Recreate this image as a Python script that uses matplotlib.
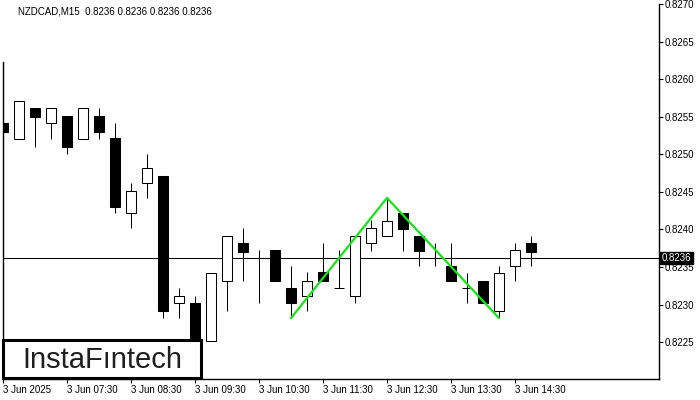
import matplotlib
matplotlib.use("Agg")
import matplotlib.pyplot as plt
from matplotlib.patches import Rectangle
from matplotlib.transforms import blended_transform_factory

plt.rcParams['font.family'] = ['Liberation Sans', 'DejaVu Sans']

# 15-minute candles, 3 Jun 2025 06:30 .. 14:45
opens = [0.82541, 0.82521, 0.82562, 0.82541, 0.82551, 0.82521, 0.82551, 0.82522,
         0.82422, 0.82462, 0.82471, 0.82302, 0.82302, 0.82251, 0.82331, 0.82382,
         0.82362, 0.82372, 0.82322, 0.82311, 0.82343, 0.82322, 0.82311, 0.82382,
         0.82391, 0.82422, 0.82391, 0.82362, 0.82352, 0.82322, 0.82332, 0.82291,
         0.82351, 0.82382]
highs = [0.82623, 0.82571, 0.82562, 0.82562, 0.82551, 0.82562, 0.82562, 0.82541,
         0.82462, 0.82500, 0.82471, 0.82322, 0.82312, 0.82342, 0.82391, 0.82402,
         0.82372, 0.82372, 0.82352, 0.82343, 0.82382, 0.82372, 0.82391, 0.82412,
         0.82442, 0.82422, 0.82391, 0.82382, 0.82382, 0.82342, 0.82332, 0.82352,
         0.82382, 0.82391]
lows = [0.82530, 0.82521, 0.82510, 0.82521, 0.82500, 0.82521, 0.82521, 0.82422,
        0.82402, 0.82442, 0.82282, 0.82282, 0.82240, 0.82251, 0.82291, 0.82331,
        0.82302, 0.82331, 0.82282, 0.82291, 0.82332, 0.82322, 0.82302, 0.82371,
        0.82391, 0.82371, 0.82351, 0.82351, 0.82331, 0.82302, 0.82302, 0.82282,
        0.82331, 0.82351]
closes = [0.82530, 0.82571, 0.82550, 0.82562, 0.82510, 0.82562, 0.82530, 0.82430,
          0.82451, 0.82482, 0.82291, 0.82312, 0.82251, 0.82342, 0.82391, 0.82370,
          0.82362, 0.82331, 0.82302, 0.82332, 0.82332, 0.82322, 0.82391, 0.82402,
          0.82411, 0.82401, 0.82371, 0.82362, 0.82331, 0.82322, 0.82302, 0.82342,
          0.82372, 0.82370]

# double top pattern: bar index, price
pattern_idx = [18, 24, 31]
pattern_px = [0.82282, 0.82442, 0.82282]

current_price = 0.82362
title = "NZDCAD,M15  0.8236 0.8236 0.8236 0.8236"

xtick_idx = [0, 4, 8, 12, 16, 20, 24, 28, 32]
xtick_labels = ["3 Jun 2025", "3 Jun 07:30", "3 Jun 08:30", "3 Jun 09:30",
                "3 Jun 10:30", "3 Jun 11:30", "3 Jun 12:30", "3 Jun 13:30",
                "3 Jun 14:30"]
ytick_vals = [0.8225, 0.8230, 0.8235, 0.8240, 0.8245, 0.8250, 0.8255, 0.8260,
              0.8265, 0.8270]

fig = plt.figure(figsize=(7, 4), dpi=100)
ax = fig.add_axes([3 / 700, 21 / 400, 656 / 700, 375 / 400])

n = len(opens)
xs = list(range(n))
lw = 0.75

ax.axhline(current_price, color='black', lw=lw, zorder=0.5)

ax.vlines(xs, lows, highs, color='black', lw=lw, zorder=1)
bottoms = [min(o, c) for o, c in zip(opens, closes)]
heights = [abs(c - o) for o, c in zip(opens, closes)]
faces = ['black' if c < o else 'white' for o, c in zip(opens, closes)]
ax.bar(xs, heights, bottom=bottoms, width=0.64, color=faces,
       edgecolor='black', linewidth=lw, zorder=2)

ax.plot(pattern_idx, pattern_px, color='#14e614', lw=1.6, zorder=5,
        solid_capstyle='round')

ax.set_xlim(0, 41)
ax.set_ylim(0.82201, 0.8270)

ax.spines['top'].set_visible(False)
ax.spines['left'].set_bounds(ax.get_ylim()[0], highs[0])
for s in ('left', 'right', 'bottom'):
    ax.spines[s].set_linewidth(1.0)

ax.yaxis.tick_right()
ax.set_yticks(ytick_vals)
ax.set_yticklabels([f"{v:.4f}" for v in ytick_vals])
ax.set_xticks(xtick_idx)
ax.set_xticklabels(xtick_labels, ha='left')
ax.tick_params(axis='both', labelsize=7, length=3, width=0.8, pad=1,
               colors='black')

trans = blended_transform_factory(ax.transAxes, ax.transData)
ax.text(1.004, current_price, f"{current_price:.4f}", transform=trans,
        fontsize=7, color='white', va='center', ha='left', zorder=10,
        bbox=dict(boxstyle='square,pad=0.15', fc='black', ec='black'))

fig.text(18 / 700, 1 - 11 / 400, title, fontsize=7, va='center', ha='left')

fig.add_artist(Rectangle((3 / 700, 22 / 400), 198 / 700, 38 / 400,
                         transform=fig.transFigure, facecolor='white',
                         edgecolor='black', linewidth=2.2, zorder=20))
fig.text(102 / 700, 1 - 360 / 400, "InstaF\u0131ntech", fontsize=21,
         color='#1e1e1e', ha='center', va='center', zorder=21)

fig.savefig("out.png", dpi=100)
